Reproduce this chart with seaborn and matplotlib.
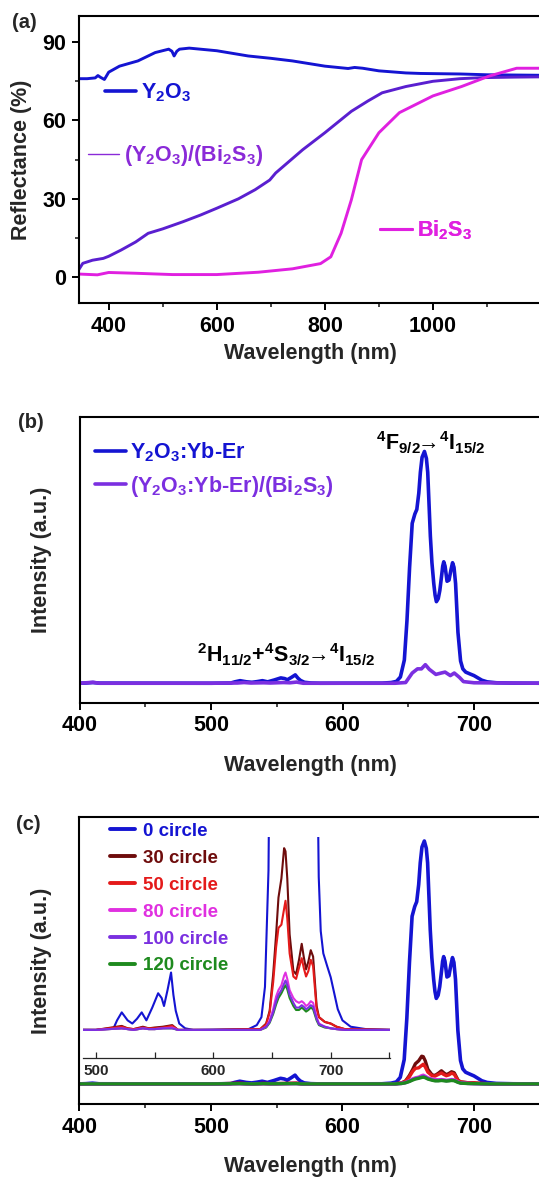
import matplotlib
matplotlib.use("Agg")
import matplotlib.pyplot as plt
import seaborn as sns
from matplotlib.ticker import MultipleLocator
from matplotlib.lines import Line2D

# ---------------- data : panel (a) reflectance ----------------
wl_a_y2o3 = [345, 360, 375, 380, 385, 392, 400, 420, 454, 486, 511, 517, 521, 526, 531, 549,
             600, 658, 700, 740, 800, 843, 855, 870, 900, 950, 977, 1050, 1100, 1200]
refl_y2o3 = [76, 76, 76.3, 77.2, 76.5, 75.7, 78.5, 80.8, 82.8, 86, 87.3, 86.5, 84.7, 86.5, 87.3, 87.7,
             86.7, 84.7, 83.8, 82.8, 80.8, 79.9, 80.3, 80, 79, 78.2, 78, 77.8, 77.5, 77.3]

wl_a_comp = [345, 352, 370, 390, 400, 423, 450, 473, 500, 537, 570, 600, 640, 671, 698, 709,
             759, 800, 849, 880, 906, 950, 1000, 1050, 1091, 1150, 1200]
refl_comp = [3, 5.3, 6.5, 7.2, 8, 10.4, 13.5, 16.8, 18.5, 21.2, 23.8, 26.4, 30, 33.5, 37.2, 39.9,
             48.8, 55.3, 63.5, 67.5, 70.6, 73, 75, 76, 76.4, 76.6, 76.7]

wl_a_bi2s3 = [345, 379, 400, 450, 518, 600, 677, 740, 792, 811, 830, 849, 868, 900, 938,
              1000, 1053, 1104, 1155, 1200]
refl_bi2s3 = [1.2, 0.9, 1.8, 1.5, 1.0, 1.0, 1.9, 3.2, 5.2, 7.8, 16.8, 29.6, 45, 55.3, 63,
              69.4, 73, 77, 80, 80]

# ---------------- data : panel (b)/(c) emission spectra ----------------
wl_blue = [400, 405, 410, 415, 500, 515, 518, 522, 527, 531, 535, 539, 543, 548, 553, 556, 558,
           561, 564, 566, 568, 571, 576, 583, 630, 637, 641, 644, 647, 649, 651, 653, 655,
           656.5, 658, 659.2, 660.5, 662.3, 663.8, 664.8, 666.8, 668, 669.4, 670.4, 671.4,
           672.8, 674, 675.5, 676.2, 677, 678, 679.5, 681, 682.5, 683.7, 684.8, 686, 687.8,
           689.8, 691.5, 693.7, 697, 700, 703, 706, 710, 717, 730, 751]
int_blue = [0, 0.1, 0.3, 0.05, 0, 0.1, 0.6, 1.1, 0.6, 0.4, 0.7, 1.1, 0.6, 1.4, 2.3, 2.0, 1.5,
            2.5, 3.6, 2.2, 1.2, 0.4, 0.1, 0, 0.05, 0.3, 0.8, 2.7, 10, 27, 50, 69, 73,
            75, 82, 91, 97.5, 100, 97, 91, 63.5, 52, 43, 38, 35.2,
            36.5, 40, 47, 50.5, 52.4, 50.5, 44, 44.5, 49, 52, 50, 43, 22,
            9.6, 6.2, 4.8, 4, 3.3, 2.3, 1.3, 0.6, 0.2, 0.05, 0]

wl_comp = [400, 410, 415, 500, 520, 525, 530, 540, 545, 555, 560, 565, 570, 640, 648, 653, 657,
           660, 663, 666, 671, 675, 678, 682, 685, 689, 692, 700, 751]
int_comp = [0, 0.4, 0, 0, 0.1, 0.3, 0.1, 0.2, 0.1, 0.3, 0.2, 0.5, 0, 0, 0.3, 4.4, 6.2,
            6.2, 8, 6, 3.8, 4.4, 4.8, 3.3, 4.4, 2.5, 0.7, 0.2, 0]

wl_cyc = [400, 500, 522, 527, 532, 540, 545, 550, 557, 565, 570, 600, 640, 645, 648, 651, 653.5,
          655.5, 658, 660.3, 661.5, 663, 665, 668.2, 670.5, 673, 675.3, 677, 679, 681, 683, 685,
          688, 690, 695, 700, 705, 712, 751]
int_30 = [0, 0, 0.25, 0.1, 0.05, 0.2, 0.1, 0.15, 0.2, 0.3, 0, 0, 0.05, 0.4, 1.2, 3.5, 6,
          8.3, 9.5, 11.4, 11.2, 9.5, 6, 3.7, 3.5, 4.4, 5.4, 4.6, 3.8, 4.3, 5.0, 4.6,
          1.5, 0.8, 0.5, 0.4, 0.2, 0.05, 0]
int_50 = [0, 0, 0.2, 0.1, 0.05, 0.15, 0.1, 0.1, 0.15, 0.25, 0, 0, 0.05, 0.35, 1.1, 3, 5.2,
          6.4, 6.6, 7.6, 8.1, 7, 4.8, 3.35, 3.2, 3.9, 4.5, 3.9, 3.35, 3.7, 4.4, 4.0,
          1.3, 0.8, 0.5, 0.4, 0.2, 0.05, 0]
int_80 = [0, 0, 0.1, 0.05, 0, 0.1, 0.05, 0.05, 0.1, 0.15, 0, 0, 0, 0.2, 0.6, 1.3, 2.1,
          2.5, 2.8, 3.4, 3.6, 3.2, 2.5, 2.0, 1.8, 1.7, 1.8, 1.7, 1.5, 1.6, 1.8, 1.7,
          0.8, 0.4, 0.2, 0.1, 0.05, 0, 0]
int_100 = [0, 0, 0.1, 0.05, 0, 0.1, 0.05, 0.05, 0.1, 0.1, 0, 0, 0, 0.2, 0.5, 1.1, 1.8,
           2.2, 2.5, 2.9, 3.1, 2.8, 2.2, 1.7, 1.4, 1.4, 1.55, 1.45, 1.3, 1.4, 1.55, 1.45,
           0.7, 0.35, 0.2, 0.1, 0.05, 0, 0]
int_120 = [0, 0, 0.1, 0.05, 0, 0.1, 0.05, 0.05, 0.1, 0.1, 0, 0, 0, 0.15, 0.45, 1.0, 1.6,
           2.0, 2.3, 2.65, 2.8, 2.55, 2.0, 1.5, 1.25, 1.25, 1.4, 1.3, 1.15, 1.25, 1.4, 1.3,
           0.6, 0.3, 0.15, 0.1, 0.05, 0, 0]

cycle_labels = ["0 circle", "30 circle", "50 circle", "80 circle", "100 circle", "120 circle"]

# ---------------- colours ----------------
C_BLUE = "#1414d2"
C_COMP_A = "#5a1fd0"
C_COMP_A_TXT = "#8a2ad8"
C_MAG = "#e020e0"
C_COMP_B = "#7b2fe0"
C_30 = "#6e0c0c"
C_50 = "#e41a1a"
C_80 = "#e030e0"
C_100 = "#7a30e0"
C_120 = "#1e8a1e"

sns.set_theme(style="ticks")
plt.rcParams['font.family'] = ['Liberation Sans', 'DejaVu Sans']
plt.rcParams['font.weight'] = 'bold'
plt.rcParams['axes.labelweight'] = 'bold'
plt.rcParams['mathtext.fontset'] = 'custom'
plt.rcParams['mathtext.rm'] = 'Liberation Sans:bold'
plt.rcParams['mathtext.it'] = 'Liberation Sans:bold'
plt.rcParams['mathtext.bf'] = 'Liberation Sans:bold'
plt.rcParams['mathtext.sf'] = 'Liberation Sans:bold'
plt.rcParams['mathtext.default'] = 'rm'

W, H = 539, 1177
fig = plt.figure(figsize=(W / 100, H / 100), dpi=100)


def pos(l, t, r, b):
    return [l / W, 1 - b / H, (r - l) / W, (b - t) / H]


def style_axes(ax):
    for s in ax.spines.values():
        s.set_linewidth(1.5)
        s.set_color("black")
    ax.tick_params(axis='both', which='major', direction='out', length=5, width=1.4,
                   labelsize=15.5, pad=4, colors='black')
    ax.tick_params(axis='both', which='minor', direction='out', length=3, width=1.2)
    for lab in ax.get_xticklabels() + ax.get_yticklabels():
        lab.set_fontweight('bold')


def line(ax, x, y, color, lw):
    sns.lineplot(x=x, y=y, ax=ax, color=color, lw=lw, estimator=None, sort=False)


# ================= panel (a) =================
ax_a = fig.add_axes(pos(79, 16, 541, 303.3))
line(ax_a, wl_a_y2o3, refl_y2o3, C_BLUE, 2.1)
line(ax_a, wl_a_comp, refl_comp, C_COMP_A, 2.1)
line(ax_a, wl_a_bi2s3, refl_bi2s3, C_MAG, 2.1)
ax_a.set_xlim(345, 1200)
ax_a.set_ylim(-10, 100)
ax_a.set_yticks([0, 30, 60, 90])
ax_a.set_xticks([400, 600, 800, 1000])
ax_a.xaxis.set_minor_locator(MultipleLocator(100))
ax_a.yaxis.set_minor_locator(MultipleLocator(15))
style_axes(ax_a)
ax_a.set_xlabel("Wavelength (nm)", fontsize=15.5, fontweight='bold')
ax_a.set_ylabel("Reflectance (%)", fontsize=15.5, fontweight='bold')
ax_a.xaxis.set_label_coords(0.5, -0.175)
ax_a.xaxis.label.set_va('center')
ax_a.yaxis.set_label_coords(-0.124, 0.5)
ax_a.yaxis.label.set_va('center')


def single_legend(ax, color, lw, label, tcolor, x, y, fs=15.5, hl=1.45):
    leg = ax.legend([Line2D([], [], color=color, lw=lw)], [label], loc='center left',
                    bbox_to_anchor=(x, y), frameon=False, borderpad=0, borderaxespad=0,
                    handlelength=hl, handletextpad=0.25, labelcolor=tcolor,
                    prop={'weight': 'bold', 'size': fs})
    ax.add_artist(leg)


single_legend(ax_a, C_BLUE, 2.6, r"Y$_2$O$_3$", C_BLUE, 0.056, 0.733)
single_legend(ax_a, C_COMP_A_TXT, 1.0, r"(Y$_2$O$_3$)/(Bi$_2$S$_3$)", C_COMP_A_TXT, 0.019, 0.514)
single_legend(ax_a, C_MAG, 2.2, r"Bi$_2$S$_3$", C_MAG, 0.6525, 0.255)

# ================= panel (b) =================
ax_b = fig.add_axes(pos(79.75, 416.7, 541, 702.7))
line(ax_b, wl_blue, int_blue, C_BLUE, 2.6)
line(ax_b, wl_comp, int_comp, C_COMP_B, 2.6)
ax_b.set_xlim(400, 751)
ax_b.set_ylim(-8.4, 115)
ax_b.set_yticks([])
ax_b.set_xticks([400, 500, 600, 700])
ax_b.xaxis.set_minor_locator(MultipleLocator(50))
style_axes(ax_b)
ax_b.set_xlabel("Wavelength (nm)", fontsize=15.5, fontweight='bold')
ax_b.set_ylabel("Intensity (a.u.)", fontsize=15.5, fontweight='bold')
ax_b.xaxis.set_label_coords(0.5, -0.218)
ax_b.xaxis.label.set_va('center')
ax_b.yaxis.set_label_coords(-0.084, 0.5)
ax_b.yaxis.label.set_va('center')
leg_b = ax_b.legend([Line2D([], [], color=C_BLUE, lw=2.6), Line2D([], [], color=C_COMP_B, lw=2.6)],
                    [r"Y$_2$O$_3$:Yb-Er", r"(Y$_2$O$_3$:Yb-Er)/(Bi$_2$S$_3$)"],
                    loc='center left', bbox_to_anchor=(0.032, 0.815), frameon=False, borderpad=0,
                    borderaxespad=0, handlelength=1.45, handletextpad=0.2, labelspacing=0.45,
                    labelcolor=[C_BLUE, C_COMP_B], prop={'weight': 'bold', 'size': 15.5})
ax_b.text(667.4, 103.6, r"$^{4}\mathrm{F}_{9/2}\!\!\rightarrow\!{}^{4}\mathrm{I}_{15/2}$",
          ha='center', va='center', fontsize=15.5, color='black')
ax_b.text(556.7, 12.2, r"$^{2}\mathrm{H}_{11/2}\mathrm{+}{}^{4}\mathrm{S}_{3/2}\!\!\rightarrow\!{}^{4}\mathrm{I}_{15/2}$",
          ha='center', va='center', fontsize=15.5, color='black')

# ================= panel (c) =================
ax_c = fig.add_axes(pos(79.3, 816.7, 541, 1104.3))
cyc_data = [int_30, int_50, int_80, int_100, int_120]
cyc_cols = [C_30, C_50, C_80, C_100, C_120]
line(ax_c, wl_blue, int_blue, C_BLUE, 2.6)
for d, c in zip(cyc_data, cyc_cols):
    line(ax_c, wl_cyc, d, c, 2.4)
ax_c.set_xlim(400, 751)
ax_c.set_ylim(-8.4, 110)
ax_c.set_yticks([])
ax_c.set_xticks([400, 500, 600, 700])
ax_c.xaxis.set_minor_locator(MultipleLocator(50))
style_axes(ax_c)
ax_c.set_xlabel("Wavelength (nm)", fontsize=15.5, fontweight='bold')
ax_c.set_ylabel("Intensity (a.u.)", fontsize=15.5, fontweight='bold')
ax_c.xaxis.set_label_coords(0.5, -0.217)
ax_c.xaxis.label.set_va('center')
ax_c.yaxis.set_label_coords(-0.0825, 0.5)
ax_c.yaxis.label.set_va('center')
all_cols = [C_BLUE] + cyc_cols
leg_c = ax_c.legend([Line2D([], [], color=c, lw=2.8) for c in all_cols], cycle_labels,
                    loc='center left', bbox_to_anchor=(0.0666, 0.715), frameon=False, borderpad=0,
                    borderaxespad=0, handlelength=1.33, handletextpad=0.42, labelspacing=0.52,
                    labelcolor=all_cols, prop={'weight': 'bold', 'size': 13.5})

# inset
ax_in = fig.add_axes(pos(83, 837, 390, 1058.3))
ax_in.patch.set_alpha(0)
line(ax_in, wl_blue, int_blue, C_BLUE, 1.5)
for d, c in zip([int_120, int_30, int_50, int_80, int_100], [C_120, C_30, C_50, C_80, C_100]):
    line(ax_in, wl_cyc, d, c, 1.5)
ax_in.set_xlim(489, 750.5)
ax_in.set_ylim(-1.78, 12.1)
ax_in.set_yticks([])
ax_in.set_xticks([500, 600, 700])
ax_in.xaxis.set_minor_locator(MultipleLocator(50))
for s in ['top', 'right', 'left']:
    ax_in.spines[s].set_visible(False)
ax_in.spines['bottom'].set_linewidth(0.9)
ax_in.tick_params(axis='x', which='both', direction='in', length=4, width=0.9,
                  labelsize=11, pad=4)
for lab in ax_in.get_xticklabels():
    lab.set_fontweight('bold')
ax_in.set_xlabel("")
ax_in.set_ylabel("")

# panel labels
fig.text(12 / W, 1 - 23 / H, "(a)", fontsize=14.5, fontweight='bold', va='center', ha='left')
fig.text(18 / W, 1 - 423 / H, "(b)", fontsize=14.5, fontweight='bold', va='center', ha='left')
fig.text(16 / W, 1 - 825 / H, "(c)", fontsize=14.5, fontweight='bold', va='center', ha='left')

fig.savefig("out.png", dpi=100)
